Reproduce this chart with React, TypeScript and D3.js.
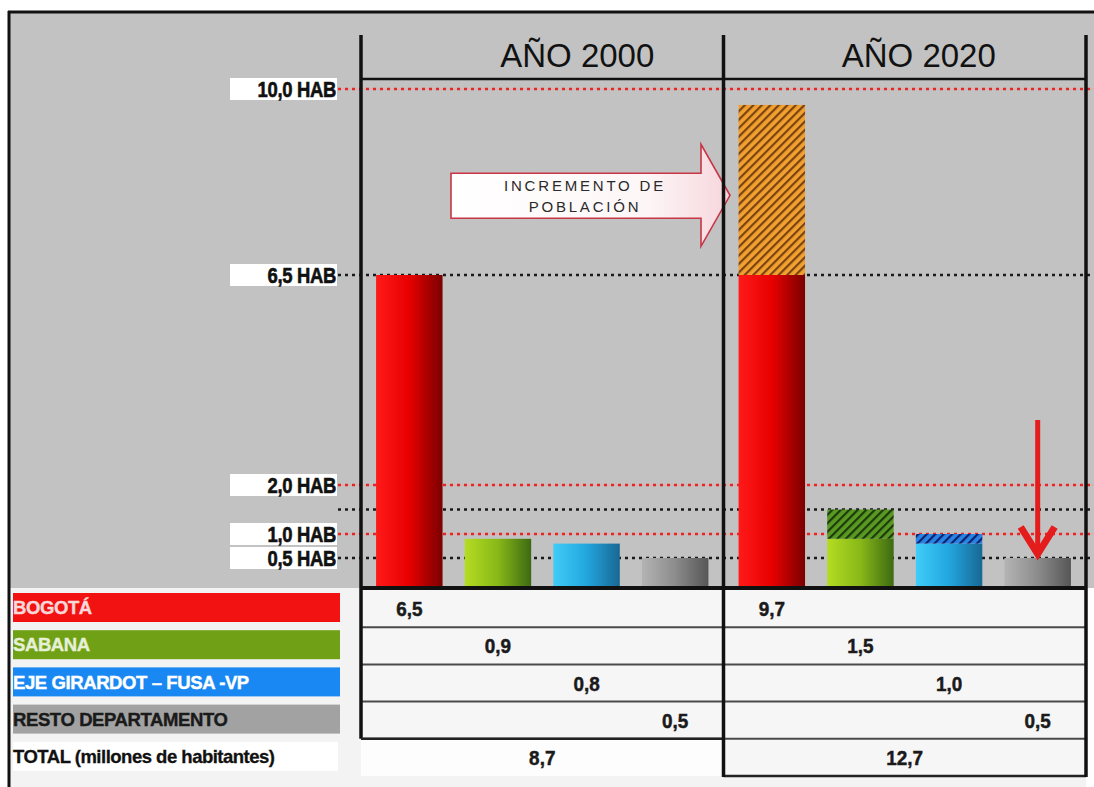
import React from 'react';
import * as d3 from 'd3';

// Regions, years and population (millions)
const regions = ['BOGOTÁ', 'SABANA', 'EJE GIRARDOT – FUSA -VP', 'RESTO DEPARTAMENTO'];
const years = ['AÑO 2000', 'AÑO 2020'];
const values2000 = [6.5, 0.9, 0.8, 0.5];
const values2020 = [9.7, 1.5, 1.0, 0.5];
const totals = [8.7, 12.7];
const totalLabel = 'TOTAL (millones de habitantes)';

// Reference levels on the vertical axis
const tickValues = [10, 6.5, 2, 1, 0.5];
const tickLabels = ['10,0 HAB', '6,5 HAB', '2,0 HAB', '1,0 HAB', '0,5 HAB'];
const guideValues = [10, 6.5, 2, 1.5, 1, 0.5];
const redGuides = new Set([10, 2, 1]);

const fmt = d3.formatLocale({ decimal: ',', thousands: '.', grouping: [3], currency: ['', ''] }).format('.1f');

const gradStops = [
  ['#ff1a1a', '#e80000', '#7a0000'],
  ['#b4dc22', '#88b818', '#3d6a12'],
  ['#40ccf8', '#22a6de', '#186894'],
  ['#b4b4b4', '#8c8c8c', '#565656'],
];
const hatchColors = [
  ['#f2a030', '#7a4410'],
  ['#5a9a22', '#1c3a0a'],
  ['#2a84e6', '#0a2470'],
  ['#8c8c8c', '#444'],
];
const legendFill = ['#f21212', '#70a016', '#1a88f2', '#a2a2a2'];
const legendText = ['#f8d8d8', '#e6f0d6', '#ffffff', '#1a1a1a'];

export default function App() {
  const W = 1094;
  const H = 787;

  const y = d3.scaleLinear().domain([0, 0.5, 1, 2, 6.5, 10]).range([587, 558, 534, 485, 275, 89]);
  const yearX = d3.scaleBand<string>().domain(years).range([361, 1086]);
  const regionX = (yr: string) =>
    d3
      .scaleBand<string>()
      .domain(regions)
      .range([(yearX(yr) as number) + 4, (yearX(yr) as number) + yearX.step() - 4])
      .paddingInner(0.25)
      .paddingOuter(0.125);
  const rows = d3.scaleBand<string>().domain([...regions, 'TOTAL']).range([590, 776]);
  const series = [values2000, values2020];

  const colLeft = yearX(years[0]) as number;
  const colMid = yearX(years[1]) as number;
  const colRight = colMid + yearX.step();
  const tableBottom2000 = rows('TOTAL') as number;
  const tableBottom2020 = tableBottom2000 + rows.step();
  const headerOffsets = [35, 14];

  const sans = "'Liberation Sans', Arial, sans-serif";

  const restoX = regionX(years[1]);
  const arrowX = (restoX(regions[3]) as number) + restoX.bandwidth() / 2;
  const arrowTip = y(0.5) - 1;

  const incY = y(8);

  return (
    <svg
      width={W}
      height={H}
      style={{ position: 'absolute', left: 0, top: 0, background: '#fff' }}
      fontFamily={sans}
    >
      <defs>
        {gradStops.map((s, i) => (
          <linearGradient key={i} id={`grad-${i}`} x1="0" x2="1" y1="0" y2="0">
            <stop offset="0" stopColor={s[0]} />
            <stop offset="0.5" stopColor={s[1]} />
            <stop offset="1" stopColor={s[2]} />
          </linearGradient>
        ))}
        {hatchColors.map((c, i) => (
          <pattern
            key={i}
            id={`hatch-${i}`}
            patternUnits="userSpaceOnUse"
            width={6}
            height={6}
            patternTransform="rotate(45)"
          >
            <rect width={6} height={6} fill={c[0]} />
            <rect width={2.2} height={6} fill={c[1]} />
          </pattern>
        ))}
        <linearGradient id="arrowFill" x1="0" x2="1" y1="0" y2="0">
          <stop offset="0" stopColor="#ffffff" />
          <stop offset="0.7" stopColor="#fdf6f7" />
          <stop offset="1" stopColor="#f6d6dc" />
        </linearGradient>
      </defs>

      {/* backgrounds */}
      <rect x={9} y={12} width={W - 9} height={576} fill="#c2c2c2" />
      <rect x={9} y={588} width={colRight - 9} height={H - 588} fill="#f3f3f3" />

      {/* outer frame */}
      <line x1={8} x2={W} y1={12} y2={12} stroke="#111" strokeWidth={3} />
      <line x1={9} x2={9} y1={11} y2={H} stroke="#111" strokeWidth={3} />

      {/* guide lines */}
      {guideValues.map((v) => {
        const red = redGuides.has(v);
        return (
          <g key={v}>
            {red && <line x1={338} x2={W} y1={y(v)} y2={y(v)} stroke="#e7a4a8" strokeWidth={1} />}
            <line
              x1={338}
              x2={W}
              y1={y(v)}
              y2={y(v)}
              stroke={red ? '#e02828' : '#1a1a1a'}
              strokeWidth={2.6}
              strokeDasharray="3 4"
            />
          </g>
        );
      })}

      {/* tick labels */}
      {tickValues.map((v, i) => (
        <g key={v}>
          <rect x={230} y={y(v) - 11} width={107} height={22} fill="#fff" />
          <text
            transform={`translate(336,${y(v)}) scale(0.84,1)`}
            dy="0.36em"
            textAnchor="end"
            fontWeight="bold"
            fontSize={22}
            fill="#111"
            stroke="#111"
            strokeWidth={0.6}
            letterSpacing={-0.4}
          >
            {tickLabels[i]}
          </text>
        </g>
      ))}

      {/* bars */}
      {years.map((yr, yi) => {
        const xs = regionX(yr);
        return (
          <g key={yr}>
            {regions.map((r, ri) => {
              const x = xs(r) as number;
              const w = xs.bandwidth();
              const base = yi === 0 ? series[0][ri] : Math.min(values2000[ri], series[yi][ri]);
              const top = series[yi][ri];
              return (
                <g key={r}>
                  <rect x={x} y={y(base)} width={w} height={y(0) - y(base)} fill={`url(#grad-${ri})`} />
                  {top > base && (
                    <rect x={x} y={y(top)} width={w} height={y(base) - y(top)} fill={`url(#hatch-${ri})`} />
                  )}
                </g>
              );
            })}
          </g>
        );
      })}

      {/* headers */}
      {years.map((yr, i) => (
        <text
          key={yr}
          x={(yearX(yr) as number) + yearX.step() / 2 + headerOffsets[i]}
          y={67}
          textAnchor="middle"
          fontSize={33}
          fill="#111"
        >
          {yr}
        </text>
      ))}
      <line x1={colLeft} x2={colRight} y1={79} y2={79} stroke="#111" strokeWidth={2.6} />

      {/* growth arrow */}
      <path
        d={`M451,${incY - 22} H701 V${incY - 51} L730,${incY} L701,${incY + 51} V${incY + 23} H451 Z`}
        fill="url(#arrowFill)"
        stroke="#c83646"
        strokeWidth={1.6}
      />
      <text x={585} y={incY - 4} textAnchor="middle" fontSize={15} fill="#2a2a2a" letterSpacing={2.8}>
        INCREMENTO DE
      </text>
      <text x={585} y={incY + 17} textAnchor="middle" fontSize={15} fill="#2a2a2a" letterSpacing={2.8}>
        POBLACIÓN
      </text>

      {/* red downward arrow */}
      <line x1={arrowX} x2={arrowX} y1={arrowTip - 137} y2={arrowTip - 8} stroke="#e41c1c" strokeWidth={5} />
      <path
        d={`M${arrowX - 17},${arrowTip - 30} L${arrowX},${arrowTip - 3} L${arrowX + 17},${arrowTip - 30}`}
        fill="none"
        stroke="#e41c1c"
        strokeWidth={7}
        strokeLinejoin="miter"
      />

      {/* table cells */}
      <rect x={colLeft} y={589} width={colRight - colLeft} height={tableBottom2000 - 589} fill="#f6f6f6" />
      <rect x={colLeft} y={tableBottom2000} width={colMid - colLeft} height={rows.step()} fill="#fdfdfd" />
      <rect x={colMid} y={tableBottom2000} width={colRight - colMid} height={rows.step()} fill="#f6f6f6" />

      {/* legend boxes */}
      {regions.map((r, i) => (
        <g key={r}>
          <rect x={13} y={(rows(r) as number) + 3} width={327} height={29} fill={legendFill[i]} />
          <text
            x={13}
            y={(rows(r) as number) + 17.5}
            dy="0.36em"
            fontWeight="bold"
            fontSize={18.5}
            fill={legendText[i]}
            stroke={legendText[i]}
            strokeWidth={0.4}
            letterSpacing={-0.4}
          >
            {r}
          </text>
        </g>
      ))}
      <rect x={13} y={(rows('TOTAL') as number) + 3} width={325} height={29} fill="#fff" />
      <text
        x={13}
        y={(rows('TOTAL') as number) + 17.5}
        dy="0.36em"
        fontWeight="bold"
        fontSize={18.5}
        fill="#111"
        stroke="#111"
        strokeWidth={0.3}
        letterSpacing={-0.5}
      >
        {totalLabel}
      </text>

      {/* row separators */}
      {regions.map((r) => {
        const yy = (rows(r) as number) + rows.step();
        return <line key={r} x1={colLeft} x2={colRight} y1={yy} y2={yy} stroke="#4a4a4a" strokeWidth={2} />;
      })}
      <line x1={colMid} x2={colRight} y1={tableBottom2020} y2={tableBottom2020} stroke="#222" strokeWidth={2.6} />

      {/* values in the table */}
      {years.map((yr, yi) => {
        const xs = regionX(yr);
        return (
          <g key={yr}>
            {regions.map((r, ri) => (
              <text
                key={r}
                transform={`translate(${(xs(r) as number) + xs.bandwidth() / 2},${(rows(r) as number) + rows.step() / 2}) scale(0.9,1)`}
                dy="0.36em"
                textAnchor="middle"
                fontWeight="bold"
                fontSize={21}
                fill="#1a1a1a"
                stroke="#1a1a1a"
                strokeWidth={0.5}
              >
                {fmt(series[yi][ri])}
              </text>
            ))}
            <text
              transform={`translate(${(yearX(yr) as number) + yearX.step() / 2},${(rows('TOTAL') as number) + rows.step() / 2}) scale(0.9,1)`}
              dy="0.36em"
              textAnchor="middle"
              fontWeight="bold"
              fontSize={21}
              fill="#1a1a1a"
              stroke="#1a1a1a"
              strokeWidth={0.5}
            >
              {fmt(totals[yi])}
            </text>
          </g>
        );
      })}

      {/* baseline and vertical rules */}
      <line x1={colLeft - 1} x2={colRight + 1} y1={588} y2={588} stroke="#111" strokeWidth={4} />
      <line x1={colLeft} x2={colLeft} y1={35} y2={tableBottom2000} stroke="#111" strokeWidth={3.5} />
      <line x1={colLeft} x2={colMid} y1={tableBottom2000} y2={tableBottom2000} stroke="#222" strokeWidth={2.6} />
      <line x1={colMid} x2={colMid} y1={35} y2={tableBottom2020 + 1} stroke="#111" strokeWidth={3.5} />
      <line x1={colRight} x2={colRight} y1={35} y2={tableBottom2020 + 1} stroke="#111" strokeWidth={3.5} />
    </svg>
  );
}
